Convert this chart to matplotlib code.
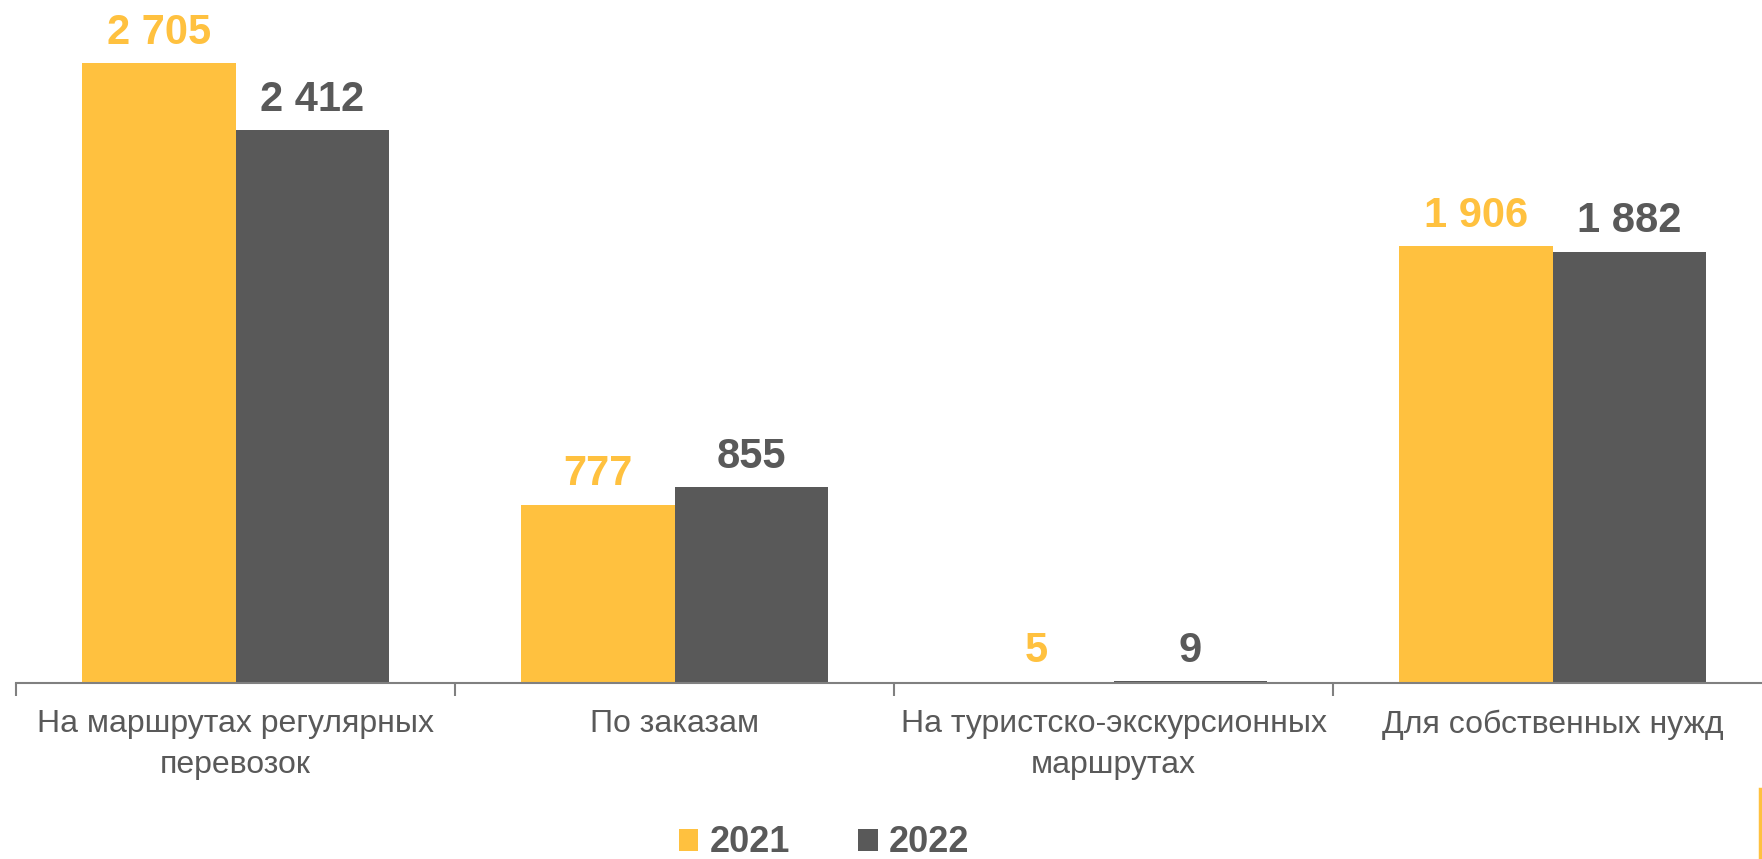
import matplotlib.pyplot as plt
from matplotlib.lines import Line2D
import numpy as np

plt.rcParams['font.family'] = ['Liberation Sans', 'DejaVu Sans']

categories = ["На маршрутах регулярных\nперевозок", "По заказам",
              "На туристско-экскурсионных\nмаршрутах", "Для собственных нужд"]
years = ["2021", "2022"]
values_2021 = [2705, 777, 5, 1906]
values_2022 = [2412, 855, 9, 1882]

ORANGE = '#FFC13F'
GRAY = '#595959'


def fmt(v):
    return f"{v:,}".replace(",", " ")


fig = plt.figure(figsize=(17.62, 8.59), dpi=100)
ax = fig.add_axes([16 / 1762, 176 / 859, 1756 / 1762, 683 / 859])

x = np.arange(len(categories))
w = 0.35
b1 = ax.bar(x - w / 2, values_2021, w, color=ORANGE, label=years[0])
b2 = ax.bar(x + w / 2, values_2022, w, color=GRAY, label=years[1])

for bars, vals, col in [(b1, values_2021, ORANGE), (b2, values_2022, GRAY)]:
    for rect, v in zip(bars, vals):
        ax.annotate(fmt(v), (rect.get_x() + rect.get_width() / 2, rect.get_height()),
                    xytext=(0, 7.5), textcoords='offset points',
                    ha='center', va='bottom', fontsize=30, fontweight='bold', color=col)

ax.set_xlim(-0.5, 3.5)
ax.set_ylim(0, 2980)

# category labels between boundary ticks
ax.set_xticks(np.arange(-0.5, 4, 1))
ax.set_xticklabels([])
ax.set_xticks(x, minor=True)
ax.set_xticklabels(categories, minor=True, fontsize=23, color=GRAY, linespacing=1.45)
ax.tick_params(axis='x', which='major', length=9, width=1.5, color='#808080', direction='out')
ax.tick_params(axis='x', which='minor', length=0, pad=19)
ax.set_yticks([])

for s in ['top', 'right', 'left']:
    ax.spines[s].set_visible(False)
ax.spines['bottom'].set_color('#808080')
ax.spines['bottom'].set_linewidth(1.5)

leg = fig.legend(handles=[b1, b2], loc='center', bbox_to_anchor=(824 / 1762, 1 - 843 / 859),
                 ncol=2, frameon=False, handlelength=0.55, handleheight=0.55,
                 handletextpad=0.3, columnspacing=1.9,
                 prop={'size': 26, 'weight': 'bold'})
for t in leg.get_texts():
    t.set_color(GRAY)

# small accent line at the right edge
fig.add_artist(Line2D([1760 / 1762, 1760 / 1762], [0, 70 / 859], color=ORANGE, linewidth=2.5))

fig.savefig('out.png', dpi=100)
